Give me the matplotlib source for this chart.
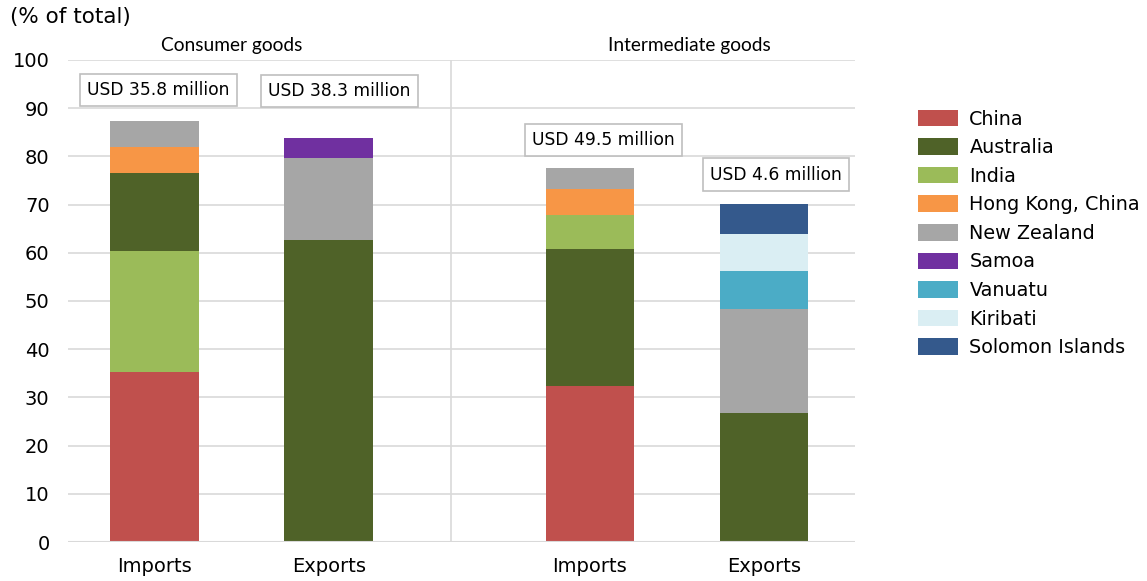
import numpy as np
import matplotlib.pyplot as plt
from matplotlib.patches import Patch

# shares of total trade (%), bottom to top of each stack
partners = ["China", "Australia", "India", "Hong Kong, China", "New Zealand",
            "Samoa", "Vanuatu", "Kiribati", "Solomon Islands"]
colors = ["#C0504D", "#4F6228", "#9BBB59", "#F79646", "#A6A6A6",
          "#7030A0", "#4BACC6", "#DAEEF3", "#34598C"]

bar_labels = ["Imports", "Exports", "Imports", "Exports"]
totals = ["USD 35.8 million", "USD 38.3 million", "USD 49.5 million", "USD 4.6 million"]

cons_imp = {"China": 35.3, "India": 25.1, "Australia": 16.2,
            "Hong Kong, China": 5.3, "New Zealand": 5.4}
cons_exp = {"Australia": 62.7, "New Zealand": 17.0, "Samoa": 4.1}
int_imp = {"China": 32.4, "Australia": 28.4, "India": 7.0,
           "Hong Kong, China": 5.4, "New Zealand": 4.4}
int_exp = {"Australia": 26.8, "New Zealand": 21.5, "Vanuatu": 7.9,
           "Kiribati": 7.7, "Solomon Islands": 6.2}

# stacking order inside each bar
orders = [["China", "India", "Australia", "Hong Kong, China", "New Zealand"],
          ["Australia", "New Zealand", "Samoa"],
          ["China", "Australia", "India", "Hong Kong, China", "New Zealand"],
          ["Australia", "New Zealand", "Vanuatu", "Kiribati", "Solomon Islands"]]
stacks = [cons_imp, cons_exp, int_imp, int_exp]

xpos = np.array([0, 1, 2.5, 3.5])
width = 0.51
cmap = dict(zip(partners, colors))

fig = plt.figure(figsize=(11.47, 5.81), dpi=100)
ax = fig.add_axes([0.059, 0.067, 0.686, 0.830])

for x, data, order in zip(xpos, stacks, orders):
    bottom = 0
    for p in order:
        ax.bar(x, data[p], width, bottom=bottom, color=cmap[p], zorder=3)
        bottom += data[p]

# value boxes above the bars
box_x = [0.02, 1.06, 2.58, 3.57]
box_y = [93.8, 93.6, 83.4, 76.2]
for bx, by, t in zip(box_x, box_y, totals):
    ax.text(bx, by, t, ha="center", va="center", fontsize=12.3,
            bbox=dict(boxstyle="square,pad=0.42", fc="white", ec="#BFBFBF", lw=1.2),
            zorder=5)

ax.set_xlim(-0.5, 4.02)
ax.set_ylim(0, 100)
ax.set_yticks(np.arange(0, 101, 10))
ax.set_xticks(xpos)
ax.set_xticklabels(bar_labels)
ax.tick_params(axis="both", length=0, labelsize=14)
ax.tick_params(axis="x", pad=11)
ax.tick_params(axis="y", pad=13)
ax.yaxis.grid(True, color="#D9D9D9", lw=1.2, zorder=0)
for s in ax.spines.values():
    s.set_visible(False)
ax.axhline(0, color="#D9D9D9", lw=1.5, zorder=4)
ax.axvline(1.70, color="#D9D9D9", lw=1.2, zorder=1)

fig.text(0.009, 0.97, "(% of total)", fontsize=15.5, va="center")
ax.text(0.44, 102.9, "Consumer goods", ha="center", va="center",
        fontsize=13.8, family="Lato")
ax.text(3.07, 102.9, "Intermediate goods", ha="center", va="center",
        fontsize=13.8, family="Lato")

handles = [Patch(facecolor=c, label=p) for p, c in zip(partners, colors)]
fig.legend(handles=handles, loc="upper left", bbox_to_anchor=(0.792, 0.828),
           frameon=False, fontsize=13.8, handlelength=2.08, handleheight=0.95,
           labelspacing=0.5, handletextpad=0.6, borderpad=0)

fig.savefig("out.png", dpi=100)
